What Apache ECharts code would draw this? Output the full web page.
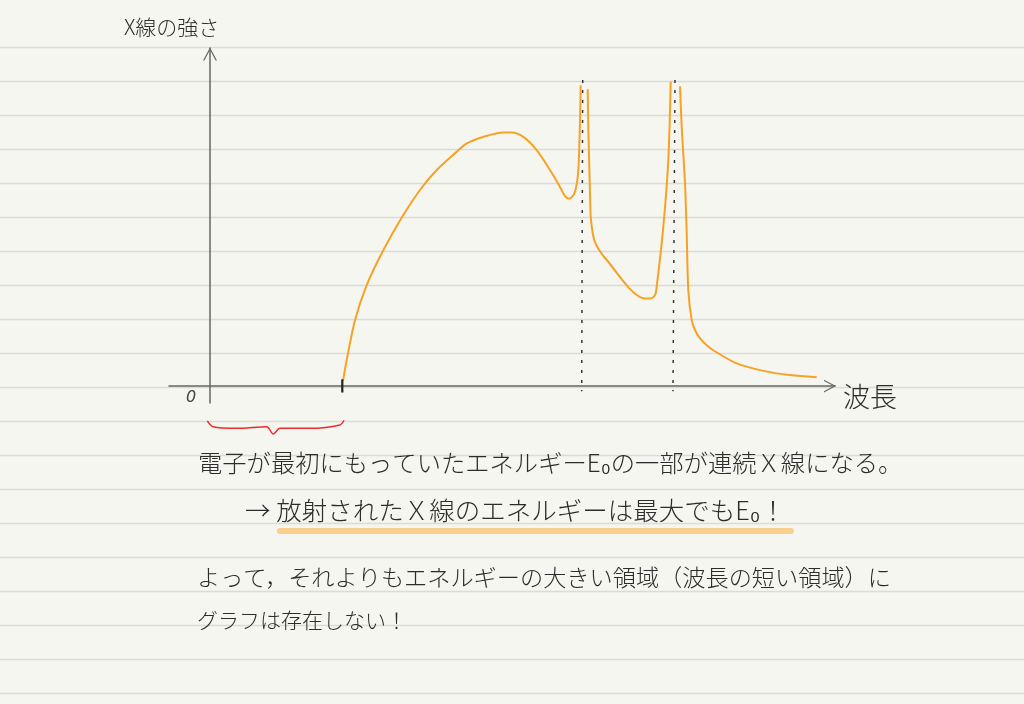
<!DOCTYPE html>
<html>
<head>
<meta charset="utf-8">
<script src="https://cdn.jsdelivr.net/npm/echarts@6/dist/echarts.min.js"></script>
<style>
  html, body { margin: 0; padding: 0; background: #f6f6f1; }
  #chart { width: 1024px; height: 704px; }
</style>
</head>
<body>
<div id="chart"></div>
<script>
// ---- data (wavelength in arbitrary units, intensity in arbitrary units) ----
const spectrumWave = [13.3, 13.67, 14.5, 15.67, 17.33, 19.33, 21.0, 22.67, 24.67, 25.67, 27.33, 29.33, 30.17, 31.33, 32.67, 34.0, 35.0, 35.5, 35.93, 36.5, 36.83, 37.0, 37.07,
  37.4,
  37.77, 37.83, 38.0, 38.1, 38.5, 39.67, 43.3, 44.0, 44.5, 44.67, 45.33, 45.83, 46.07,
  46.5,
  47.0, 47.17, 47.5, 47.67, 47.83, 48.17, 48.5, 49.0, 49.67, 50.33, 52.67, 55.33, 58.0, 60.67];
const spectrumIntensity = [1.5, 7.7, 19.5, 29.9, 40.2, 50.6, 58.0, 63.9, 69.3, 71.8, 73.7, 75.0, 75.0, 73.7, 69.8, 63.9, 58.9, 56.2, 55.4, 57.5, 63.9, 78.7, 89.0,
  null,
  87.8, 76.7, 57.1, 49.1, 42.6, 37.3, 26.0, 25.9, 26.9, 29.4, 47.1, 66.8, 90.0,
  null,
  88.7, 76.7, 60.0, 45.2, 28.4, 19.5, 16.6, 14.1, 12.1, 10.6, 6.7, 4.5, 3.25, 2.6];

// characteristic line guides (dotted)
const guide1Wave = [37.27, 37.17];
const guide2Wave = [46.5, 46.3];
const guideIntensity = [90.5, -1.5];

// minimum-wavelength tick
const tickWave = [13.23, 13.23];
const tickIntensity = [2.0, -1.9];

// brace under the axis (region with no spectrum)
const braceWave = [-0.27, 0.3, 2.67, 5.67, 6.33, 7.0, 10.0, 13.0, 13.4];
const braceLevel = [-10.3, -12.0, -12.5, -12.0, -14.2, -12.5, -12.5, -11.5, -10.1];

// texts
const yAxisTitle = 'X線の強さ';
const xAxisTitle = '波長';
const originLabel = '0';
const noteLines = [
  '電子が最初にもっていたエネルギーE₀の一部が連続Ｘ線になる。',
  '→ 放射されたＸ線のエネルギーは最大でもE₀！',
  'よって，それよりもエネルギーの大きい領域（波長の短い領域）に',
  'グラフは存在しない！'
];

const zip = (a, b) => a.map((v, i) => [v, b[i]]);

const chevron = 'path://M0,13 L7,0 L14,13 L12.6,13 L7,2.6 L1.4,13 Z';

// ruled notebook lines
const ruled = [];
for (let k = 0; k < 20; k++) {
  const y = 47.5 + 34 * k;
  ruled.push({
    type: 'line', z: -10, silent: true,
    shape: { x1: 0, y1: y, x2: 1024, y2: y },
    style: { stroke: '#dcdcd6', lineWidth: 1.5 }
  });
}

const fontFam = '"Noto Sans CJK JP", sans-serif';
const textColor = '#2c2c2c';

const chart = echarts.init(document.getElementById('chart'));
chart.setOption({
  backgroundColor: '#f6f6f1',
  animation: false,
  grid: { left: 169, right: 189, top: 48, bottom: 301 },
  xAxis: {
    type: 'value', min: -4.1, max: 62.5,
    axisLine: {
      onZero: true,
      lineStyle: { color: '#666', width: 1.5 },
      symbol: ['none', chevron], symbolSize: [15, 12], symbolOffset: [0, -5]
    },
    axisTick: { show: false }, axisLabel: { show: false }, splitLine: { show: false }
  },
  yAxis: {
    type: 'value', min: -5, max: 100,
    axisLine: {
      onZero: true,
      lineStyle: { color: '#666', width: 1.5 },
      symbol: ['none', chevron], symbolSize: [14, 13], symbolOffset: [0, -6]
    },
    axisTick: { show: false }, axisLabel: { show: false }, splitLine: { show: false }
  },
  series: [
    {
      type: 'line', data: zip(spectrumWave, spectrumIntensity),
      showSymbol: false, smooth: 0.3, connectNulls: false,
      lineStyle: { color: '#f7a224', width: 2 }, z: 5
    },
    {
      type: 'line', data: zip(guide1Wave, guideIntensity), showSymbol: false,
      lineStyle: { color: '#333', width: 1.5, type: [3, 7] }, z: 4
    },
    {
      type: 'line', data: zip(guide2Wave, guideIntensity), showSymbol: false,
      lineStyle: { color: '#333', width: 1.5, type: [3, 7] }, z: 4
    },
    {
      type: 'line', data: zip(tickWave, tickIntensity), showSymbol: false,
      lineStyle: { color: '#222', width: 2.2 }, z: 6
    },
    {
      type: 'line', data: zip(braceWave, braceLevel), showSymbol: false, clip: false,
      smooth: 0.3, lineStyle: { color: '#ee2b2b', width: 1.5 }, z: 6
    }
  ],
  graphic: ruled.concat([
    {
      type: 'line', z: 1, silent: true,
      shape: { x1: 280, y1: 531, x2: 791, y2: 531 },
      style: { stroke: '#f8cf8c', lineWidth: 6, lineCap: 'round' }
    },
    { type: 'text', left: 124, top: 17, z: 10,
      style: { text: yAxisTitle, font: '300 21px ' + fontFam, fill: textColor } },
    { type: 'text', left: 843, top: 383, z: 10,
      style: { text: xAxisTitle, font: '300 27px ' + fontFam, fill: textColor } },
    { type: 'text', left: 186, top: 390, z: 10,
      style: { text: originLabel, font: 'italic 16px "DejaVu Sans", sans-serif', fill: '#444' } },
    { type: 'text', left: 198, top: 451, z: 10,
      style: { text: noteLines[0], font: '300 24.3px ' + fontFam, fill: textColor } },
    { type: 'text', left: 245, top: 498, z: 10,
      style: { text: noteLines[1], font: '300 25.5px ' + fontFam, fill: textColor } },
    { type: 'text', left: 197, top: 566, z: 10,
      style: { text: noteLines[2], font: '300 23.2px ' + fontFam, fill: textColor } },
    { type: 'text', left: 197, top: 610, z: 10,
      style: { text: noteLines[3], font: '300 21px ' + fontFam, fill: textColor } }
  ])
});
</script>
</body>
</html>
